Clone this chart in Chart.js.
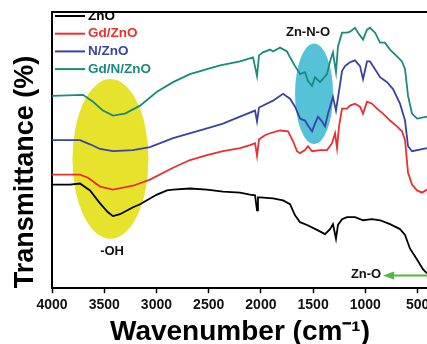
<!DOCTYPE html>
<html>
<head>
<meta charset="utf-8">
<script src="https://cdn.jsdelivr.net/npm/chart.js@4.4.1/dist/chart.umd.min.js"></script>
<style>
  html, body { margin: 0; padding: 0; background: #fff; overflow: hidden; width: 427px; height: 344px; }
  #wrap { position: relative; width: 460px; height: 346px; }
</style>
</head>
<body>
<div id="wrap"><canvas id="myChart"></canvas></div>
<script>
// FTIR spectra (transmittance, arbitrary %, curves offset)
const seriesNames = ['ZnO', 'Gd/ZnO', 'N/ZnO', 'Gd/N/ZnO'];
const seriesColors = ['#000000', '#e8302e', '#3a42a6', '#198a7c'];

const znoWave = [4000, 3828, 3732, 3636, 3540, 3464, 3416, 3349, 3224, 3157, 3062, 2995, 2899, 2841, 2679, 2516, 2363, 2200, 2104, 2056, 2037, 2028, 2008, 1884, 1788, 1721, 1673, 1625, 1558, 1463, 1386, 1338, 1310, 1281, 1262, 1223, 1175, 1099, 1022, 936, 859, 764, 668, 620, 572, 505, 447, 409];
const znoT = [37.5, 37.5, 37.9, 35.4, 30.7, 27.5, 26.1, 26.8, 29.3, 30.4, 32.5, 33.9, 35.4, 35.7, 36.1, 35.7, 35.0, 34.6, 33.9, 33.6, 28.2, 32.9, 32.9, 32.5, 31.8, 30.4, 26.4, 23.9, 22.9, 21.1, 19.6, 21.4, 23.2, 17.9, 22.9, 25.0, 25.7, 25.7, 24.6, 25.0, 24.6, 23.2, 21.4, 19.3, 14.3, 10.4, 6.8, 5.4];

const gdZnoWave = [4000, 3732, 3655, 3540, 3416, 3224, 3062, 2841, 2679, 2516, 2363, 2200, 2104, 2056, 2037, 2018, 1961, 1913, 1817, 1740, 1692, 1654, 1625, 1578, 1549, 1510, 1434, 1367, 1319, 1290, 1271, 1252, 1223, 1175, 1147, 1099, 1051, 1022, 984, 936, 888, 831, 764, 697, 649, 620, 591, 553, 505, 457, 409];
const gdZnoT = [41.1, 41.1, 40.0, 36.8, 35.7, 37.1, 39.3, 43.6, 46.4, 48.2, 49.6, 50.7, 51.8, 52.5, 47.9, 53.9, 55.4, 56.1, 57.1, 56.8, 53.2, 49.6, 48.9, 50.0, 51.4, 49.6, 50.0, 50.0, 52.5, 56.1, 50.7, 58.6, 65.0, 65.0, 66.1, 66.8, 65.7, 63.2, 67.5, 66.8, 65.0, 63.2, 60.7, 58.6, 56.8, 53.6, 41.8, 37.5, 35.4, 34.6, 35.7];

const nZnoWave = [4000, 3732, 3636, 3540, 3416, 3224, 3062, 2841, 2516, 2363, 2200, 2056, 2037, 2018, 1884, 1788, 1721, 1673, 1625, 1578, 1549, 1510, 1482, 1453, 1415, 1386, 1357, 1310, 1281, 1252, 1223, 1195, 1147, 1099, 1051, 1022, 984, 955, 907, 859, 792, 735, 668, 620, 591, 553, 409];
const nZnoT = [53.6, 53.6, 52.1, 50.4, 49.6, 50.0, 51.1, 54.3, 57.9, 59.6, 62.1, 64.3, 60.4, 65.4, 67.9, 70.4, 68.6, 65.7, 61.4, 60.7, 58.9, 56.8, 59.6, 62.1, 60.4, 58.6, 63.2, 69.3, 64.3, 71.4, 78.6, 80.4, 81.8, 82.5, 80.4, 75.7, 82.1, 82.1, 79.3, 76.4, 74.6, 72.1, 66.8, 60.7, 51.4, 49.6, 50.7];

const gdNZnoWave = [4000, 3703, 3607, 3512, 3416, 3301, 3157, 2995, 2841, 2679, 2516, 2391, 2200, 2075, 2037, 2018, 1980, 1913, 1884, 1817, 1750, 1721, 1673, 1625, 1578, 1549, 1510, 1482, 1434, 1367, 1338, 1310, 1281, 1262, 1223, 1175, 1147, 1099, 1070, 1022, 984, 955, 907, 859, 812, 764, 697, 649, 620, 591, 553, 505, 409];
const gdNZnoT = [69.6, 70.0, 67.5, 64.3, 62.5, 63.2, 66.1, 71.1, 74.6, 77.5, 79.3, 80.7, 82.1, 83.6, 76.8, 84.3, 85.4, 86.4, 85.7, 87.1, 85.7, 83.6, 80.4, 77.5, 78.2, 75.0, 73.2, 76.4, 74.6, 77.5, 82.1, 85.4, 78.2, 87.5, 92.5, 92.5, 92.9, 94.3, 92.5, 90.0, 93.6, 94.3, 92.5, 88.9, 88.9, 86.4, 83.9, 82.1, 79.3, 69.6, 63.2, 61.4, 62.1];

const xTicks = [4000, 3500, 3000, 2500, 2000, 1500, 1000, 500];

// highlighted bands (ellipses) and their labels
const bandNames = ['-OH', 'Zn-N-O'];
const bandCenters = [3440, 1491];
const bandCenterT = [46.8, 70.4];
const bandHalfWidth = [364, 182];
const bandHalfHeight = [28.9, 18.2];
const bandLabelWave = [3425, 1549];
const bandLabelT = [13.2, 92.5];
const bandColors = ['#e7e22b', '#55c2d8'];

// Zn-O arrow
const arrowLabel = 'Zn-O';
const arrowFrom = 400;
const arrowTo = 831;
const arrowT = 4.6;
const arrowLabelWave = 993;

const FONT = 'Arial, "Liberation Sans", sans-serif';

const waves = [znoWave, gdZnoWave, nZnoWave, gdNZnoWave];
const trans = [znoT, gdZnoT, nZnoT, gdNZnoT];

const datasets = seriesNames.map((name, i) => ({
    label: name,
    data: waves[i].map((w, j) => ({x: w, y: trans[i][j]})),
    borderColor: seriesColors[i],
    backgroundColor: seriesColors[i],
    borderWidth: 1.8,
    pointRadius: 0,
    tension: 0,
    fill: false
}));

const decorPlugin = {
    id: 'decor',
    beforeDatasetsDraw(chart) {
        const {ctx, scales: {x, y}} = chart;
        ctx.save();
        for (let i = 0; i < bandCenters.length; i++) {
            const cx = x.getPixelForValue(bandCenters[i]);
            const cy = y.getPixelForValue(bandCenterT[i]);
            const rx = Math.abs(x.getPixelForValue(bandCenters[i] - bandHalfWidth[i]) - cx);
            const ry = Math.abs(y.getPixelForValue(bandCenterT[i] + bandHalfHeight[i]) - cy);
            ctx.fillStyle = bandColors[i];
            ctx.beginPath();
            ctx.ellipse(cx, cy, rx, ry, 0, 0, Math.PI * 2);
            ctx.fill();
        }
        ctx.restore();
    },
    afterDraw(chart) {
        const {ctx, chartArea, scales: {x, y}} = chart;
        ctx.save();

        // frame top
        ctx.strokeStyle = '#000';
        ctx.lineWidth = 2;
        ctx.beginPath();
        ctx.moveTo(chartArea.left, chartArea.top);
        ctx.lineTo(chartArea.right + 10, chartArea.top);
        ctx.stroke();

        // band labels
        ctx.fillStyle = '#111';
        ctx.font = 'bold 13px ' + FONT;
        ctx.textAlign = 'center';
        ctx.textBaseline = 'middle';
        for (let i = 0; i < bandNames.length; i++) {
            ctx.fillText(bandNames[i], x.getPixelForValue(bandLabelWave[i]), y.getPixelForValue(bandLabelT[i]));
        }

        // Zn-O arrow
        const ay = y.getPixelForValue(arrowT);
        const ax0 = x.getPixelForValue(arrowFrom) + 10;
        const ax1 = x.getPixelForValue(arrowTo);
        ctx.strokeStyle = '#4dba3a';
        ctx.fillStyle = '#4dba3a';
        ctx.lineWidth = 2;
        ctx.beginPath();
        ctx.moveTo(ax0, ay);
        ctx.lineTo(ax1 + 8, ay);
        ctx.stroke();
        ctx.beginPath();
        ctx.moveTo(ax1, ay);
        ctx.lineTo(ax1 + 11, ay - 4);
        ctx.lineTo(ax1 + 11, ay + 4);
        ctx.closePath();
        ctx.fill();
        ctx.fillStyle = '#111';
        ctx.fillText(arrowLabel, x.getPixelForValue(arrowLabelWave), y.getPixelForValue(arrowT + 0.4));

        // legend
        ctx.font = 'bold 13.5px ' + FONT;
        ctx.textAlign = 'left';
        chart.data.datasets.forEach((ds, i) => {
            const yy = chartArea.top + 4 + i * 17.7;
            ctx.strokeStyle = ds.borderColor;
            ctx.lineWidth = 2;
            ctx.beginPath();
            ctx.moveTo(chartArea.left + 3, yy);
            ctx.lineTo(chartArea.left + 33, yy);
            ctx.stroke();
            ctx.fillStyle = ds.borderColor;
            ctx.fillText(ds.label, chartArea.left + 36, yy);
        });
        ctx.restore();
    }
};

const config = {
    type: 'line',
    data: {datasets: datasets},
    options: {
        responsive: true,
        maintainAspectRatio: false,
        animation: false,
        layout: {padding: {top: 12, left: 8, right: 32, bottom: 0}},
        plugins: {
            legend: {display: false},
            tooltip: {enabled: false}
        },
        scales: {
            x: {
                type: 'linear',
                reverse: true,
                min: 400,
                max: 4000,
                afterBuildTicks: scale => {
                    scale.ticks = xTicks.map(v => ({value: v}));
                },
                grid: {drawOnChartArea: false, tickLength: 5, tickColor: '#000', tickWidth: 1.5},
                border: {display: true, color: '#000', width: 2},
                ticks: {
                    color: '#111',
                    padding: 4,
                    maxRotation: 0,
                    callback: v => String(v),
                    font: {family: FONT, size: 14, weight: 'bold'}
                },
                title: {
                    display: true,
                    text: 'Wavenumber (cm⁻¹)',
                    color: '#000',
                    padding: {top: 0, bottom: 0},
                    font: {family: FONT, size: 28, weight: 'bold', lineHeight: 1}
                }
            },
            y: {
                min: 0,
                max: 100,
                grid: {display: false, drawTicks: false},
                border: {display: true, color: '#000', width: 2},
                ticks: {display: false},
                title: {
                    display: true,
                    text: 'Transmittance (%)',
                    align: 'start',
                    color: '#000',
                    padding: {top: 4, bottom: 13},
                    font: {family: FONT, size: 27, weight: 'bold', lineHeight: 1}
                }
            }
        }
    },
    plugins: [decorPlugin]
};

const myChart = new Chart(document.getElementById('myChart'), config);
</script>
</body>
</html>
